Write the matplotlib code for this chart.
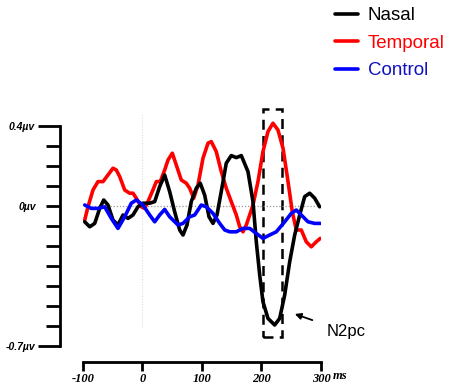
import matplotlib
matplotlib.use("Agg")
import matplotlib.pyplot as plt
from matplotlib.patches import Rectangle
from matplotlib.ticker import FixedLocator, FixedFormatter

# ERP waveforms (ms, microvolts)
nasal_t = [-97.1, -88.7, -80.3, -71.9, -65.2, -58.0, -49.6, -41.2, -32.8,
           -24.4, -16.0, -7.6, 0.8, 12.1, 20.5, 28.9, 37.3, 45.7, 54.1, 62.5,
           68.1, 74.8, 82.0, 90.4, 97.1, 104.5, 111.8, 118.5, 125.2, 132.4,
           140.8, 149.2, 157.7, 166.1, 177.3, 185.7, 191.3, 197.0, 202.5,
           210.9, 222.2, 230.6, 239.0, 247.4, 255.8, 264.2, 272.6, 281.0,
           289.4, 297.8]
nasal_v = [-0.079, -0.104, -0.087, -0.012, 0.03, 0.005, -0.07, -0.095, -0.045,
           -0.062, -0.045, -0.004, 0.014, 0.014, 0.022, 0.097, 0.155, 0.072,
           -0.029, -0.12, -0.145, -0.095, 0.022, 0.089, 0.114, 0.055, -0.054,
           -0.087, -0.045, 0.072, 0.214, 0.252, 0.242, 0.252, 0.172, 0.022,
           -0.179, -0.345, -0.479, -0.562, -0.595, -0.562, -0.445, -0.279,
           -0.145, -0.045, 0.047, 0.064, 0.039, -0.004]

temporal_t = [-97.1, -91.6, -83.2, -74.8, -66.4, -58.0, -49.6, -44.0, -38.3,
              -29.9, -21.5, -16.0, -10.4, -2.0, 3.7, 9.2, 17.6, 23.2, 29.9,
              37.3, 42.9, 50.1, 56.8, 65.2, 73.6, 79.3, 86.1, 93.3, 101.7,
              110.1, 115.6, 124.0, 132.4, 140.8, 149.2, 157.7, 163.4, 168.9,
              174.5, 185.7, 194.1, 202.5, 210.9, 219.3, 227.7, 236.2, 244.6,
              251.8, 258.5, 266.9, 275.3, 283.7, 292.1, 298.8]
temporal_v = [-0.07, -0.004, 0.08, 0.122, 0.122, 0.155, 0.189, 0.18, 0.147,
              0.08, 0.064, 0.064, 0.039, -0.004, -0.012, 0.022, 0.08, 0.122,
              0.122, 0.18, 0.23, 0.264, 0.205, 0.13, 0.114, 0.089, 0.039,
              0.105, 0.239, 0.314, 0.322, 0.272, 0.172, 0.089, 0.022, -0.045,
              -0.104, -0.129, -0.095, 0.005, 0.122, 0.272, 0.372, 0.414, 0.38,
              0.289, 0.122, -0.029, -0.12, -0.12, -0.179, -0.204, -0.179,
              -0.162]

control_t = [-97.1, -86.1, -74.8, -63.5, -52.4, -41.2, -29.9, -18.8, -10.4,
             0.8, 12.1, 20.5, 28.9, 37.3, 45.7, 59.7, 68.1, 79.3, 87.7, 98.8,
             107.2, 118.5, 129.8, 138.2, 146.6, 157.7, 168.9, 180.2, 191.3,
             202.5, 213.8, 224.9, 239.0, 250.1, 258.5, 266.9, 278.2, 289.4,
             298.8]
control_v = [0.005, -0.012, -0.012, -0.004, -0.062, -0.112, -0.054, 0.014,
             0.03, 0.005, -0.045, -0.079, -0.045, -0.017, -0.054, -0.095,
             -0.087, -0.054, -0.045, 0.005, -0.004, -0.037, -0.087, -0.12,
             -0.129, -0.129, -0.112, -0.112, -0.137, -0.162, -0.145, -0.129,
             -0.079, -0.037, -0.02, -0.045, -0.079, -0.087, -0.087]

x_ticks = [-100, 0, 100, 200, 300]
y_ticks = [0.3, 0.2, 0.1, 0.0, -0.1, -0.2, -0.3, -0.4, -0.5, -0.6]
y_ends = [0.4, -0.7]

# N2pc window
win_start, win_end = 203, 234
win_low, win_high = -0.655, 0.484


def main():
    fig = plt.figure(figsize=(4.54, 3.87), dpi=100)
    ax = fig.add_axes([0.1828, 0.0646, 0.5242, 0.646])
    ax.set_xlim(-100, 300)
    ax.set_ylim(-0.78, 0.47)

    ax.plot([-97, 298], [0, 0], color="#999999", lw=0.9, ls=(0, (1, 1.5)))
    ax.plot([0, 0], [-0.605, 0.465], color="#dddddd", lw=0.8,
            ls=(0, (1, 1.5)))

    style = dict(lw=2.6, solid_joinstyle="round", solid_capstyle="round")
    l_t, = ax.plot(temporal_t, temporal_v, color="#ff0000", **style)
    l_n, = ax.plot(nasal_t, nasal_v, color="black", **style)
    l_c, = ax.plot(control_t, control_v, color="#0000ff", **style)

    ax.add_patch(Rectangle((win_start, win_low), win_end - win_start,
                           win_high - win_low, fill=False, ec="black",
                           lw=1.8, ls=(0, (4, 2.5)), clip_on=False))

    ax.annotate("N2pc", xy=(256, -0.54), xytext=(310, -0.63),
                ha="left", va="center", fontsize=12,
                family="Liberation Sans",
                arrowprops=dict(arrowstyle="-|>", color="black", lw=1.3,
                                shrinkA=9, shrinkB=0, mutation_scale=9))

    for s in ["top", "right"]:
        ax.spines[s].set_visible(False)
    ax.spines["left"].set_position(("outward", 16.6))
    ax.spines["left"].set_bounds(-0.7, 0.4)
    ax.spines["bottom"].set_bounds(-100, 300)
    for s in ["left", "bottom"]:
        ax.spines[s].set_linewidth(2)

    ax.set_xticks(x_ticks)
    ax.set_xticklabels([str(t) for t in x_ticks], family="Liberation Serif",
                       fontweight="bold", fontstyle="italic", fontsize=9)
    ax.tick_params(axis="x", direction="out", length=6.5, width=2, pad=1.5)

    ax.yaxis.set_major_locator(FixedLocator(y_ends))
    ax.yaxis.set_major_formatter(FixedFormatter(["0.4\u00b5v", "-0.7\u00b5v"]))
    ax.yaxis.set_minor_locator(FixedLocator(y_ticks))
    ax.yaxis.set_minor_formatter(FixedFormatter(
        ["0\u00b5v" if v == 0 else "" for v in y_ticks]))
    ax.tick_params(axis="y", which="major", length=16, width=2, pad=2)
    ax.tick_params(axis="y", which="minor", length=10, width=2, pad=7.5)
    for lab in ax.get_yticklabels(which="both"):
        lab.set_family("Liberation Sans")
        lab.set_fontweight("bold")
        lab.set_fontstyle("italic")
        lab.set_fontsize(7.5)

    ax.text(320, -0.85, "ms", family="Liberation Serif", fontstyle="italic",
            fontweight="bold", fontsize=9, ha="left", va="center",
            clip_on=False)

    leg = ax.legend([l_n, l_t, l_c], ["Nasal", "Temporal", "Control"],
                    loc="upper left", bbox_to_anchor=(335 / 454, 1 - 7 / 387),
                    bbox_transform=fig.transFigure, frameon=False,
                    prop={"family": "Liberation Sans", "size": 13.5},
                    handlelength=1.25, handletextpad=0.5, labelspacing=0.56,
                    borderpad=0, borderaxespad=0)
    for txt, c in zip(leg.get_texts(), ["black", "#ff0000", "#1010c0"]):
        txt.set_color(c)

    fig.savefig("out.png", dpi=100)


if __name__ == "__main__":
    main()
